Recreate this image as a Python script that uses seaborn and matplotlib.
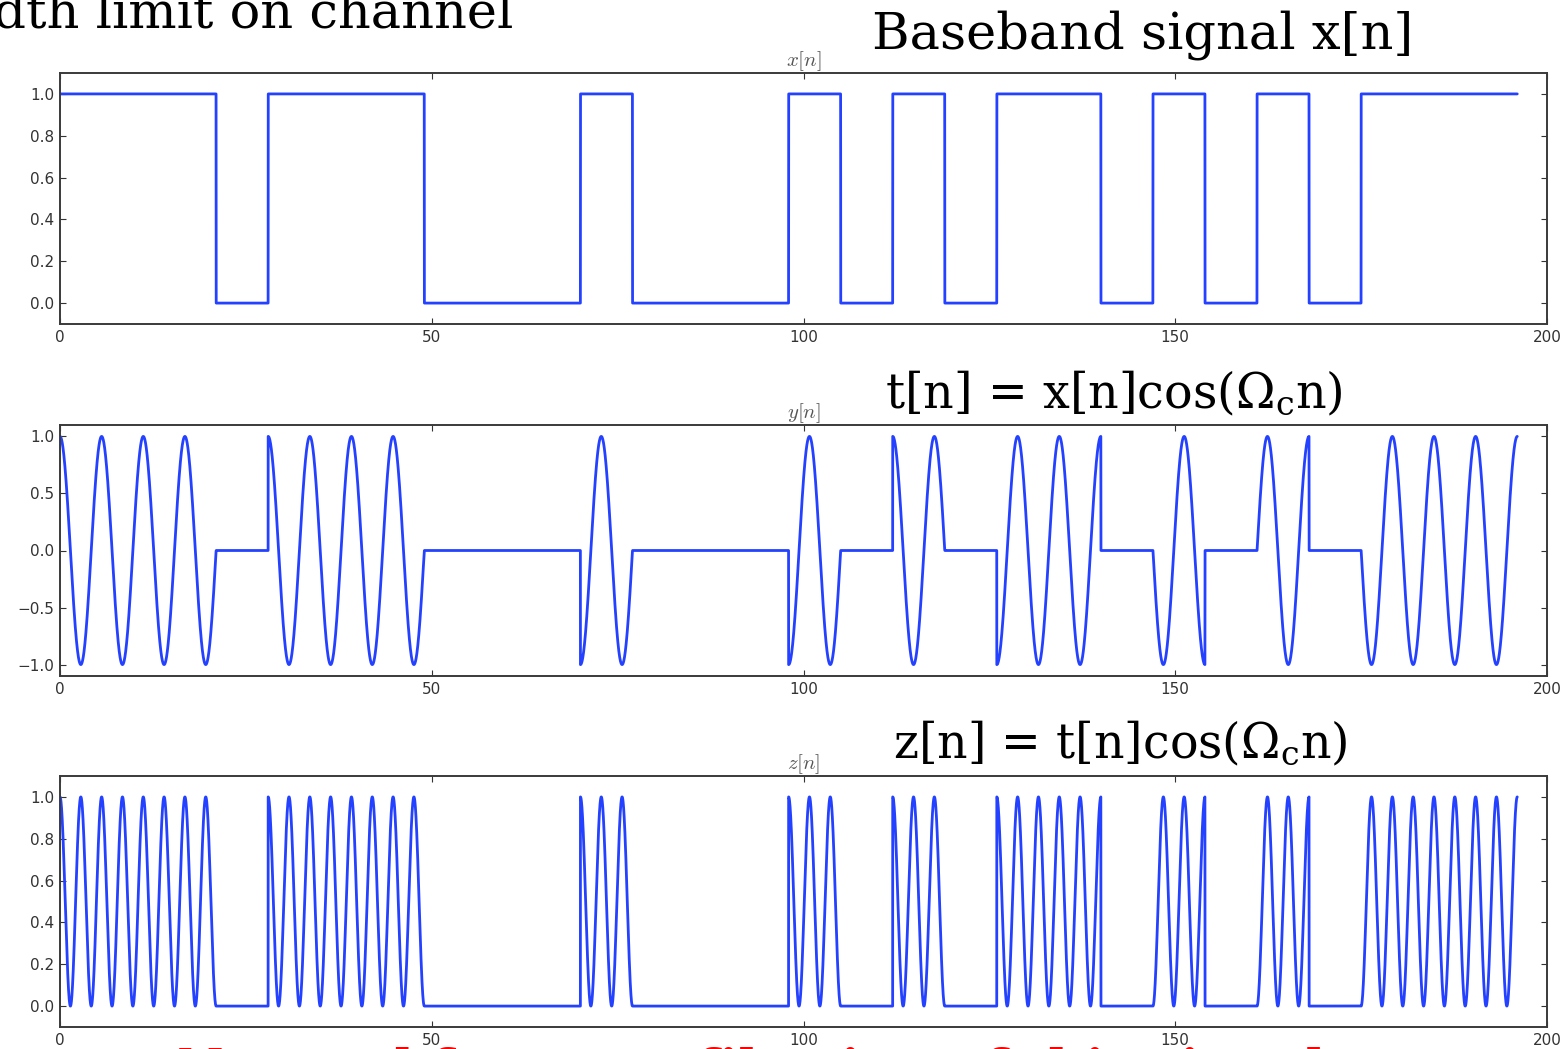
import numpy as np
import pandas as pd
import matplotlib
matplotlib.use("Agg")
import matplotlib.pyplot as plt
import seaborn as sns

# ---- data ----
BITS = [1, 1, 1, 0, 1, 1, 1, 0, 0, 0, 1, 0, 0, 0, 1, 0, 1, 0, 1, 1, 0, 1, 0, 1, 0, 1, 1, 1]
SAMPLES_PER_BIT = 7
CARRIER_PERIOD = 5.6
X_TICKS = [0, 50, 100, 150, 200]
Y_TICKS_UNIT = [0.0, 0.2, 0.4, 0.6, 0.8, 1.0]
Y_TICKS_BIPOLAR = [-1.0, -0.5, 0.0, 0.5, 1.0]
AX_TITLES = ["$x[n]$", "$y[n]$", "$z[n]$"]
BIG_TITLES = ["Baseband signal x[n]",
              "t[n] = x[n]cos(Ω$_\\mathrm{c}$n)",
              "z[n] = t[n]cos(Ω$_\\mathrm{c}$n)"]
TOP_LEFT_TEXT = "Bandwidth limit on channel"
BOTTOM_RED_TEXT = "No need for more filtering of this signal"

# ---- derived signals ----
n_end = len(BITS) * SAMPLES_PER_BIT
n = np.linspace(0, n_end, n_end * 100 + 1)
idx = np.minimum((n // SAMPLES_PER_BIT).astype(int), len(BITS) - 1)
x_sig = np.asarray(BITS, dtype=float)[idx]
carrier = np.cos(2 * np.pi * n / CARRIER_PERIOD)
t_sig = x_sig * carrier
z_sig = t_sig * carrier
df = pd.DataFrame({"n": n, "x": x_sig, "t": t_sig, "z": z_sig})

sns.set_theme(style="white", rc={
    "xtick.direction": "in", "ytick.direction": "in",
    "xtick.top": True, "ytick.right": True,
    "xtick.bottom": True, "ytick.left": True,
    "xtick.major.size": 4, "ytick.major.size": 4,
    "xtick.major.width": 0.8, "ytick.major.width": 0.8,
    "xtick.color": "#333333", "ytick.color": "#333333",
    "axes.edgecolor": "#3a3a3a", "axes.linewidth": 1.4,
})
plt.rcParams["font.family"] = ["DejaVu Sans"]

W, H = 1567, 1049
fig = plt.figure(figsize=(W / 100, H / 100), dpi=100)

left = 60 / W
width = (1547 - 60) / W
ax_px = [(73, 324), (425, 676), (776, 1027)]
cols = ["x", "t", "z"]
LINE_COLOR = "#2441ff"

for i, (top, bot) in enumerate(ax_px):
    ax = fig.add_axes([left, 1 - bot / H, width, (bot - top) / H])
    sns.lineplot(data=df, x="n", y=cols[i], ax=ax, color=LINE_COLOR,
                 linewidth=2.0, estimator=None, sort=False)
    ax.set_xlim(0, 200)
    ax.set_xticks(X_TICKS)
    if i == 1:
        ax.set_ylim(-1.1, 1.1)
        ax.set_yticks(Y_TICKS_BIPOLAR)
    else:
        ax.set_ylim(-0.1, 1.1)
        ax.set_yticks(Y_TICKS_UNIT)
    ax.set_xlabel("")
    ax.set_ylabel("")
    ax.tick_params(labelsize=11, pad=4)
    ax.set_title(AX_TITLES[i], fontsize=15, color="#555555", pad=2,
                 math_fontfamily="cm")

renderer = fig.canvas.get_renderer()


def fit_text(x_px, base_px, target_w, s, ha="left", size=None, color="black", **kw):
    txt = fig.text(x_px / W, 1 - base_px / H, s, ha=ha, va="baseline",
                   family="DejaVu Serif", math_fontfamily="dejavuserif",
                   fontsize=size or 36, color=color, **kw)
    if target_w is not None:
        w = txt.get_window_extent(renderer).width
        txt.set_fontsize(txt.get_fontsize() * target_w / w)
    return txt


t1 = fit_text(872, 48, 1412 - 872, BIG_TITLES[0])
fs = t1.get_fontsize()
fit_text(885, 407, 1343 - 885, BIG_TITLES[1])
fit_text(893, 757, 1348 - 893, BIG_TITLES[2])
fit_text(513, 27, None, TOP_LEFT_TEXT, ha="right", size=fs)
fit_text(177, 1084, None, BOTTOM_RED_TEXT, size=fs, color="red",
         weight="bold")

fig.savefig("out.png", dpi=100)
